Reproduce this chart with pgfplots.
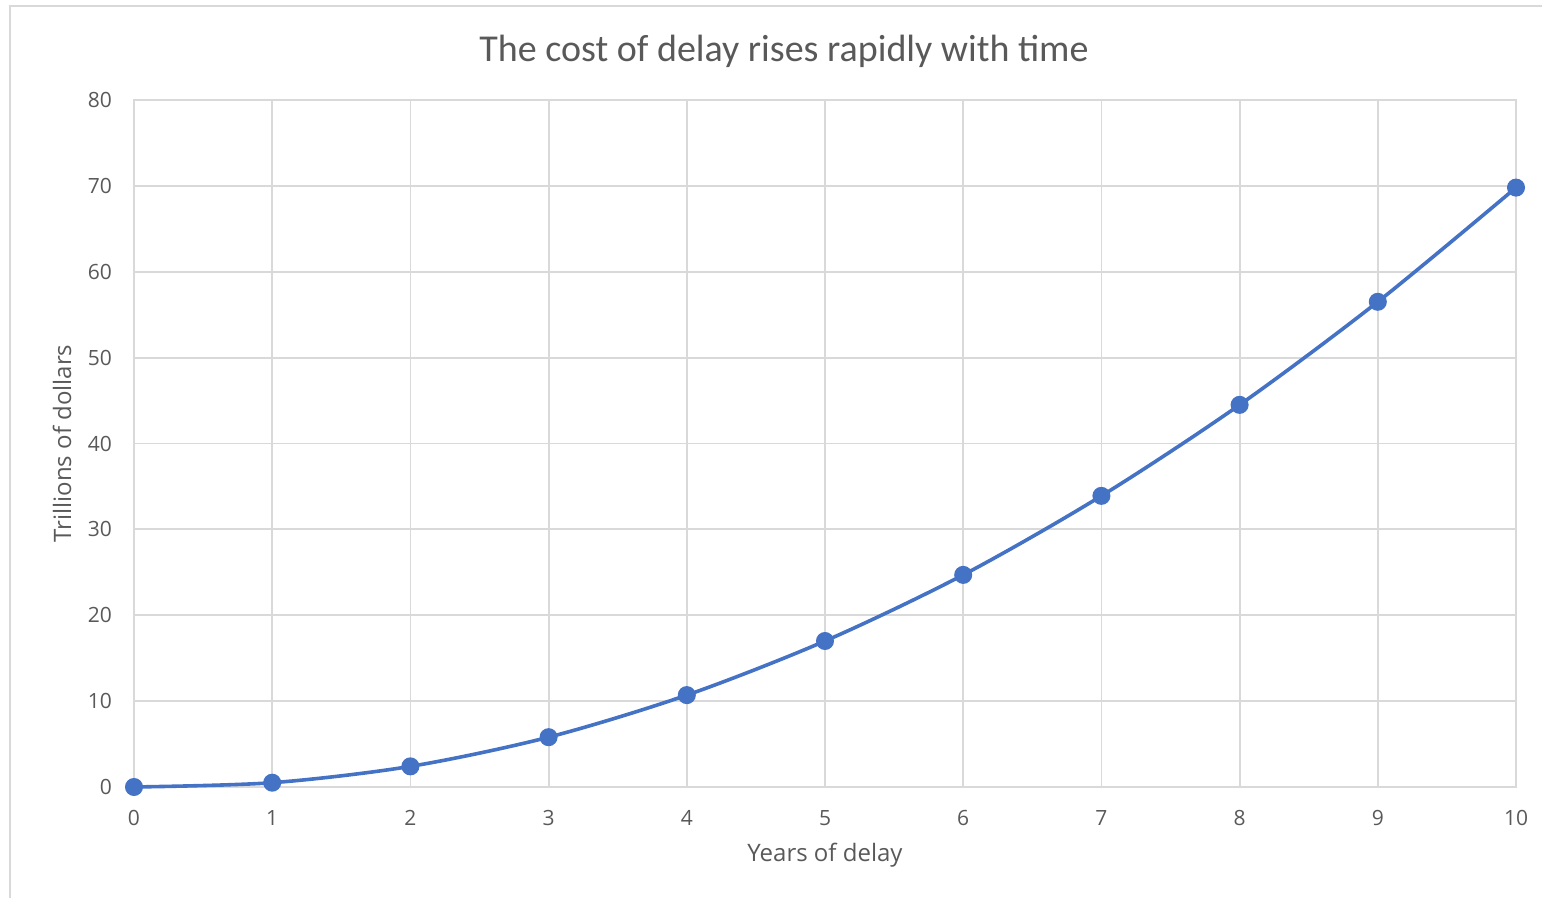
\documentclass[border=0pt]{standalone}
\usepackage{pgfplots}
\pgfplotsset{compat=1.18}
\usepackage{fontspec}
\setmainfont{Open Sans}
\newfontfamily\titlefont{Carlito}
\definecolor{txt}{HTML}{595959}
\definecolor{grd}{HTML}{D9D9D9}
\definecolor{ln}{HTML}{4472C4}
\begin{document}
\begin{tikzpicture}
\path[use as bounding box] (0,0) rectangle (771pt,449pt);
\draw[grd, line width=1.2pt] (5pt,-2pt) -- (5pt,446pt) -- (773pt,446pt);
\node[txt, font=\titlefont\fontsize{19}{21}\selectfont] at (392pt,423.5pt) {The cost of delay rises rapidly with time};
\begin{axis}[
  at={(67pt,55.5pt)}, anchor=south west,
  scale only axis, width=691pt, height=343.5pt,
  xmin=0, xmax=10, ymin=0, ymax=80,
  xtick={0,1,...,10}, ytick={0,10,...,80},
  grid=major, grid style={grd, line width=0.9pt},
  axis line style={grd, line width=0.9pt},
  tick style={draw=none},
  ticklabel style={txt, font=\fontsize{10.5}{12}\selectfont},
  /pgf/number format/assume math mode=true,
  xticklabel style={anchor=center, yshift=-15.5pt},
  yticklabel style={anchor=east, xshift=-7.5pt},
  clip=false,
]
\addplot[ln, line width=1.8pt, smooth, mark=*, mark size=3.6pt, mark options={fill=ln, draw=ln}] coordinates {
(0,0) (1,0.5) (2,2.4) (3,5.8) (4,10.7) (5,17.0) (6,24.7) (7,33.9) (8,44.5) (9,56.5) (10,69.8)
};
\node[txt, font=\fontsize{12}{14}\selectfont, anchor=center] at ([yshift=-34pt]axis description cs:0.5,0) {Years of delay};
\node[txt, font=\fontsize{12}{14}\selectfont, anchor=center, rotate=90] at ([xshift=-36pt]axis description cs:0,0.5) {Trillions of dollars};
\end{axis}
\end{tikzpicture}
\end{document}
